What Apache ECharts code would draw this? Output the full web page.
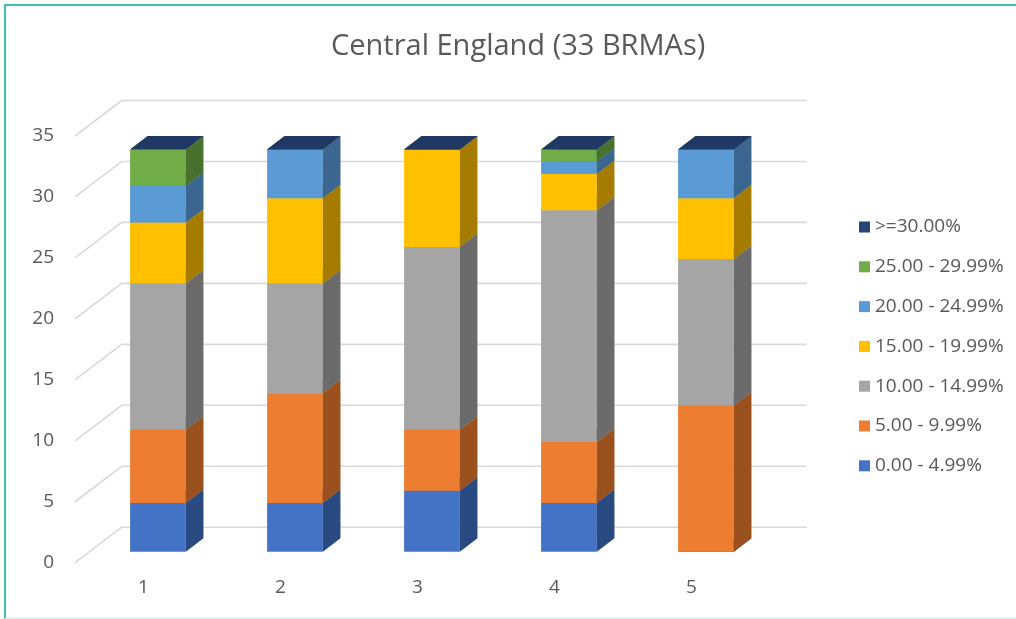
<!DOCTYPE html>
<html>
<head>
<meta charset="utf-8">
<script src="https://cdn.jsdelivr.net/npm/echarts@6/dist/echarts.min.js"></script>
<style>
  html, body { margin: 0; padding: 0; background: #ffffff; }
  #frame {
    position: absolute; left: 4px; top: 4px; width: 1020px; height: 611px;
    border-top: 2px solid #3fbfad; border-left: 2px solid #3fbfad;
    border-bottom: 2px solid #dff3f0;
  }
  #chart { position: absolute; left: 0; top: 0; width: 1016px; height: 619px; }
</style>
</head>
<body>
<div id="frame"></div>
<div id="chart"></div>
<script>
// Number of BRMAs in each band, per column (each column totals 33)
const categories = ['1', '2', '3', '4', '5'];
const band0to5   = [4, 4, 5, 4, 0];
const band5to10  = [6, 9, 5, 5, 12];
const band10to15 = [12, 9, 15, 19, 12];
const band15to20 = [5, 7, 8, 3, 5];
const band20to25 = [3, 4, 0, 1, 4];
const band25to30 = [3, 0, 0, 1, 0];
const band30plus = [0, 0, 0, 0, 0];

const bandNames = ['0.00 - 4.99%', '5.00 - 9.99%', '10.00 - 14.99%', '15.00 - 19.99%',
                   '20.00 - 24.99%', '25.00 - 29.99%', '>=30.00%'];
const bandValues = [band0to5, band5to10, band10to15, band15to20, band20to25, band25to30, band30plus];

const valueMax = 35;
const valueStep = 5;

// face colours: front, side, top
const faceColors = [
  ['#4472c4', '#294a80', '#2f5597'],
  ['#ed7d31', '#9a511e', '#c55a11'],
  ['#a5a5a5', '#6b6b6b', '#7f7f7f'],
  ['#ffc000', '#a67c00', '#bf9000'],
  ['#5b9bd5', '#3a6690', '#2e75b6'],
  ['#70ad47', '#48712d', '#548235'],
  ['#264478', '#1a2f54', '#1f3864']
];

// oblique depth of the floor (pixels) and where the columns sit inside it
const DEPTH_X = 46.7, DEPTH_Y = 35.5;
const FRONT_F = 0.31, BACK_F = 0.687;
const BAR_RATIO = 0.407;
const GRID_COLOR = '#d9d9d9';

const chart = echarts.init(document.getElementById('chart'), null, { renderer: 'canvas' });

// stacked segments [category, base, top]
const stackedSeries = [];
const running = categories.map(() => 0);
bandValues.forEach((vals, s) => {
  const data = vals.map((v, i) => {
    const lo = running[i];
    running[i] += v;
    return [i, lo, running[i]];
  });
  stackedSeries.push({
    name: bandNames[s],
    type: 'custom',
    color: faceColors[s][0],
    itemStyle: { color: faceColors[s][0] },
    encode: { x: 0, y: [1, 2] },
    data: data,
    z: 3,
    renderItem: function (params, api) {
      const ci = api.value(0), lo = api.value(1), hi = api.value(2);
      const pLo = api.coord([ci, lo]);
      const pHi = api.coord([ci, hi]);
      const bw = api.size([1, 0])[0] * BAR_RATIO;
      const xl = pLo[0] + DEPTH_X * FRONT_F - bw / 2;
      const xr = xl + bw;
      const yb = pLo[1] - DEPTH_Y * FRONT_F;
      const yt = pHi[1] - DEPTH_Y * FRONT_F;
      const dx = DEPTH_X * (BACK_F - FRONT_F);
      const dy = DEPTH_Y * (BACK_F - FRONT_F);
      const c = faceColors[s];
      const children = [];
      if (yb - yt > 0.01) {
        children.push({ type: 'rect', shape: { x: xl, y: yt, width: bw, height: yb - yt },
                        style: { fill: c[0] } });
        children.push({ type: 'polygon',
                        shape: { points: [[xr, yb], [xr, yt], [xr + dx, yt - dy], [xr + dx, yb - dy]] },
                        style: { fill: c[1] } });
      }
      children.push({ type: 'polygon',
                      shape: { points: [[xl, yt], [xr, yt], [xr + dx, yt - dy], [xl + dx, yt - dy]] },
                      style: { fill: c[2] } });
      return { type: 'group', children: children };
    }
  });
});

// wall gridlines: side wall diagonal + back wall horizontal, at each value tick
const tickValues = [];
for (let v = 0; v <= valueMax; v += valueStep) tickValues.push([0, v]);

const wallSeries = {
  type: 'custom',
  silent: true,
  z: 1,
  encode: { x: 0, y: 1 },
  data: tickValues,
  renderItem: function (params, api) {
    const p = api.coord([0, api.value(1)]);
    const cs = params.coordSys;
    const x0 = cs.x, y0 = p[1];
    return {
      type: 'polyline',
      shape: { points: [[x0, y0], [x0 + DEPTH_X, y0 - DEPTH_Y], [cs.x + cs.width + DEPTH_X, y0 - DEPTH_Y]] },
      style: { stroke: GRID_COLOR, lineWidth: 1.6, fill: null }
    };
  }
};

const textColor = '#595959';
const fontFamily = '"Open Sans", "Noto Sans", sans-serif';

chart.setOption({
  animation: false,
  backgroundColor: 'transparent',
  title: {
    text: 'Central England (33 BRMAs)',
    left: 331,
    top: 32,
    padding: 0,
    textStyle: { color: textColor, fontSize: 29, fontWeight: 'normal', fontFamily: fontFamily }
  },
  legend: {
    orient: 'vertical',
    left: 859,
    top: 217,
    padding: 0,
    icon: 'rect',
    itemWidth: 11,
    itemHeight: 11,
    itemGap: 19.8,
    data: bandNames.slice().reverse(),
    textStyle: { color: textColor, fontSize: 19, fontFamily: fontFamily, lineHeight: 20 }
  },
  grid: { left: 75, right: 256, top: 136, bottom: 56.3 },
  xAxis: {
    type: 'category',
    data: categories,
    axisLine: { show: false },
    axisTick: { show: false },
    axisLabel: { color: textColor, fontSize: 19, fontFamily: fontFamily, margin: 15 }
  },
  yAxis: {
    type: 'value',
    min: 0,
    max: valueMax,
    interval: valueStep,
    axisLine: { show: false },
    axisTick: { show: false },
    splitLine: { show: false },
    axisLabel: { color: textColor, fontSize: 19, fontFamily: fontFamily, margin: 21 }
  },
  series: [wallSeries].concat(stackedSeries)
});
</script>
</body>
</html>
